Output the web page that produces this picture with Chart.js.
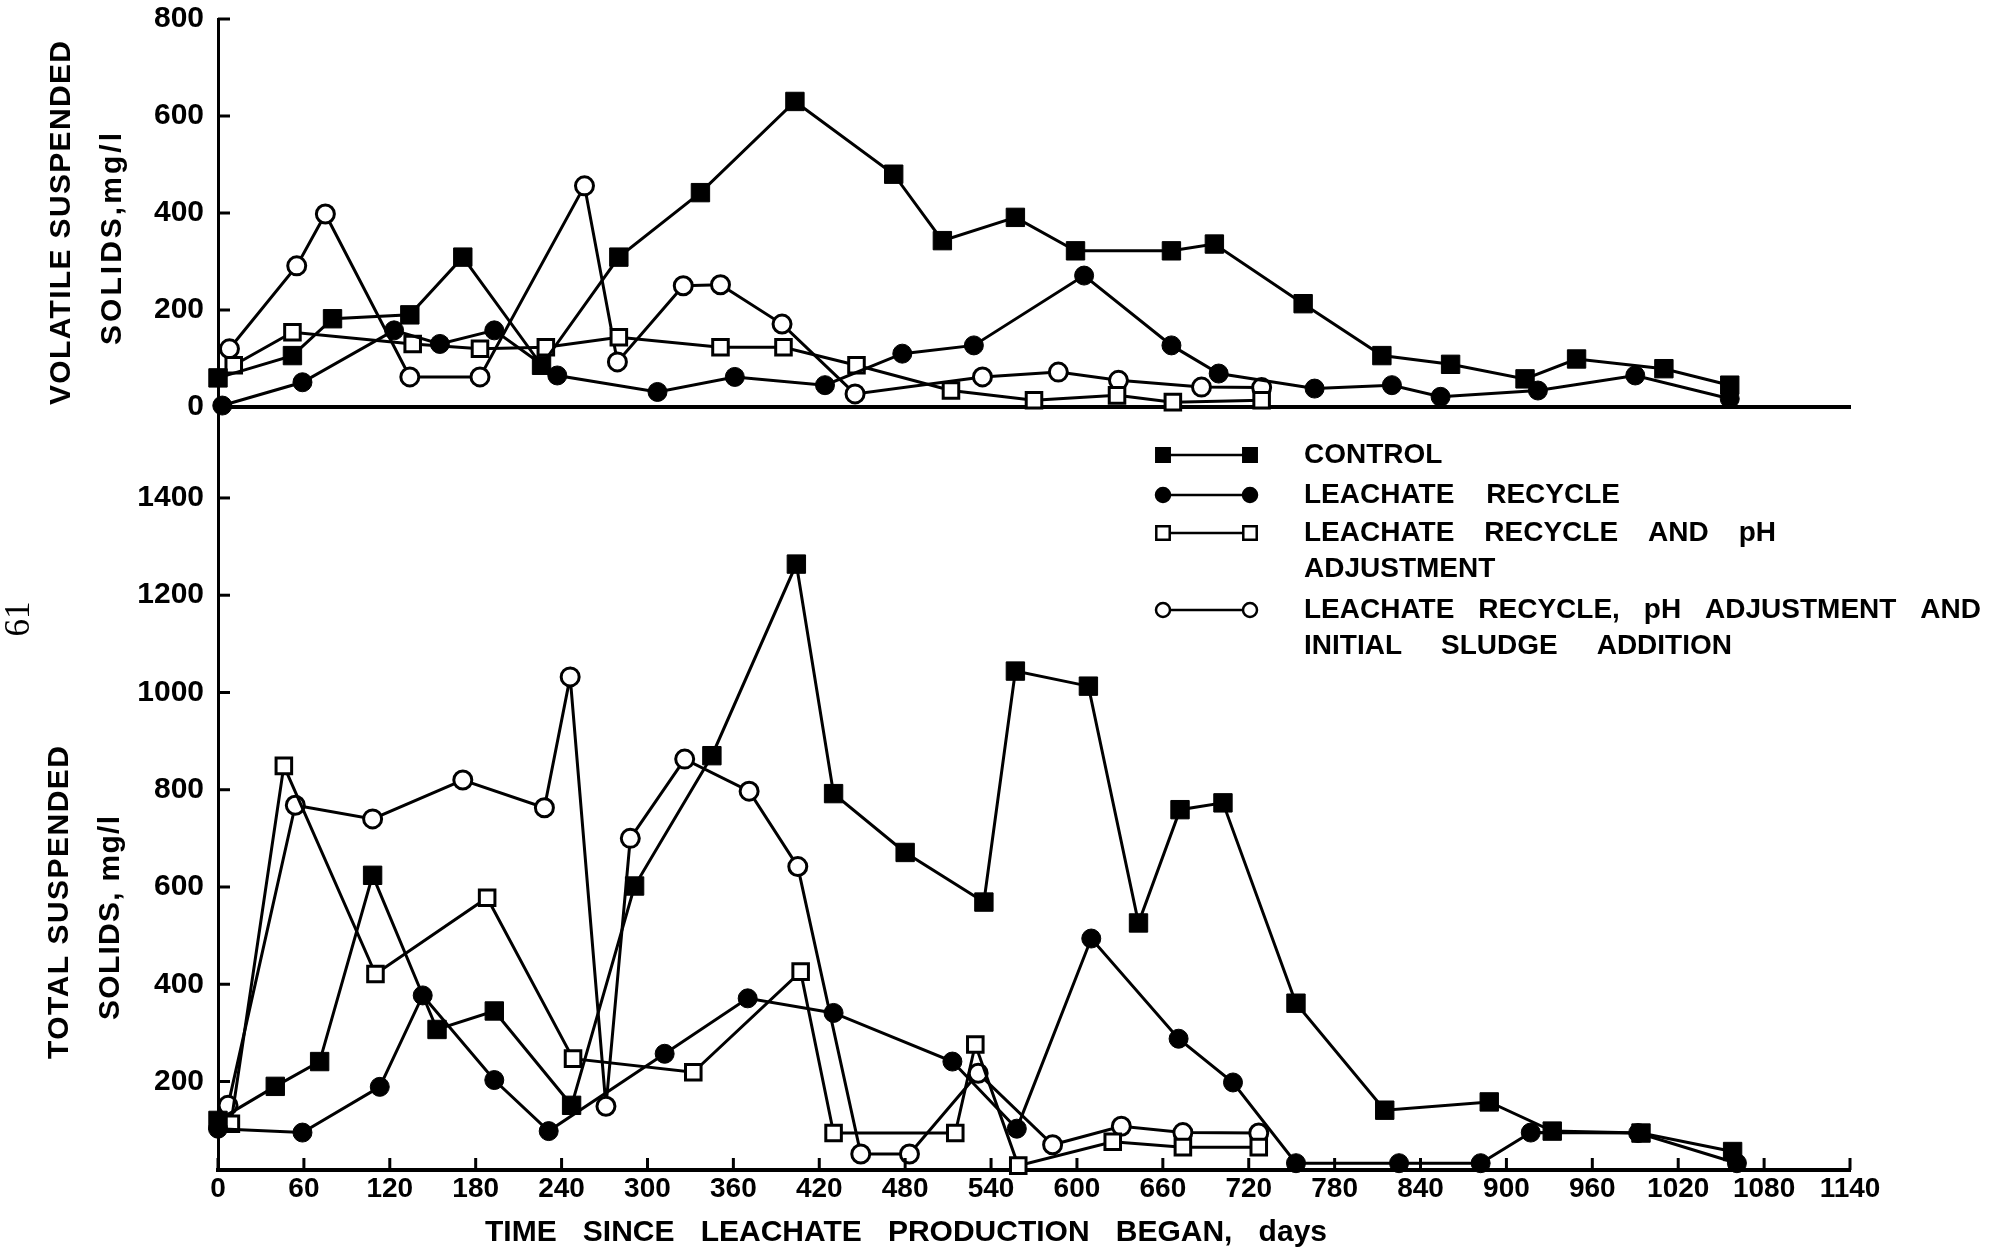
<!DOCTYPE html>
<html>
<head>
<meta charset="utf-8">
<script src="https://cdn.jsdelivr.net/npm/chart.js@4.4.1/dist/chart.umd.min.js"></script>
<style>
  html, body { margin: 0; padding: 0; background: #fff; }
  #wrap { position: relative; width: 2000px; height: 1255px; overflow: hidden; background: #fff; }
  canvas { position: absolute; left: 0; }
  #vss { top: 0; }
  #tss { top: 380px; }
</style>
</head>
<body>
<div id="wrap">
  <canvas id="vss" width="2000" height="430"></canvas>
  <canvas id="tss" width="2000" height="875"></canvas>
</div>
<script>
// ---- data (days since leachate production began, mg/l) ----
const seriesNames = ['CONTROL', 'LEACHATE RECYCLE', 'LEACHATE RECYCLE AND pH ADJUSTMENT',
  'LEACHATE RECYCLE, pH ADJUSTMENT AND INITIAL SLUDGE ADDITION'];

// volatile suspended solids (top panel)
const vssControlDays = [0, 52, 80, 134, 171, 226, 280, 337, 403, 472, 506, 557, 599, 666, 696, 758, 813, 861, 913, 949, 1010, 1056];
const vssControl     = [60, 106, 182, 190, 309, 86, 309, 442, 630, 480, 343, 391, 322, 322, 336, 213, 106, 88, 58, 99, 79, 45];
const vssRecycleDays = [3, 59, 123, 155, 193, 237, 307, 361, 424, 478, 528, 605, 666, 699, 766, 820, 854, 922, 990, 1056];
const vssRecycle     = [3, 51, 158, 130, 158, 65, 31, 62, 45, 110, 127, 271, 127, 69, 38, 45, 21, 34, 65, 17];
const vssPhDays      = [11, 52, 136, 183, 229, 280, 351, 395, 446, 512, 570, 628, 667, 729];
const vssPh          = [86, 154, 130, 120, 123, 144, 123, 123, 86, 34, 14, 24, 10, 14];
const vssSludgeDays  = [8, 55, 75, 134, 183, 256, 279, 325, 351, 394, 445, 534, 587, 629, 687, 729];
const vssSludge      = [120, 291, 398, 62, 62, 456, 93, 250, 252, 171, 27, 62, 72, 55, 41, 40];

// total suspended solids (bottom panel)
const tssControlDays = [0, 40, 71, 108, 153, 193, 247, 291, 345, 404, 430, 480, 535, 557, 608, 643, 672, 702, 753, 815, 888, 932, 994, 1058];
const tssControl     = [120, 190, 241, 624, 307, 345, 151, 602, 870, 1264, 792, 671, 569, 1044, 1013, 526, 759, 773, 361, 141, 158, 98, 94, 56];
const tssRecycleDays = [0, 59, 113, 143, 193, 231, 312, 370, 430, 513, 558, 610, 671, 709, 753, 825, 882, 917, 992, 1061];
const tssRecycle     = [103, 95, 189, 377, 203, 98, 257, 371, 341, 241, 103, 494, 288, 198, 32, 32, 32, 95, 94, 32];
const tssPhDays      = [9, 46, 110, 188, 248, 332, 407, 430, 515, 529, 559, 625, 674, 727];
const tssPh          = [113, 849, 421, 578, 247, 219, 426, 94, 94, 276, 27, 76, 65, 65];
const tssSludgeDays  = [7, 54, 108, 171, 228, 246, 271, 288, 326, 371, 405, 449, 483, 531, 583, 631, 674, 727];
const tssSludge      = [151, 768, 740, 820, 763, 1032, 149, 700, 863, 797, 642, 51, 51, 217, 70, 108, 95, 94];

const vssTicks = [0, 200, 400, 600, 800];
const tssTicks = [200, 400, 600, 800, 1000, 1200, 1400];

// legend text, as laid out in the figure
const legendLines = [['CONTROL'], ['LEACHATE RECYCLE'], ['LEACHATE RECYCLE AND pH', 'ADJUSTMENT'],
  ['LEACHATE RECYCLE, pH ADJUSTMENT AND', 'INITIAL SLUDGE ADDITION']];

// ---- styling / layout ----
const FONT = '"Liberation Sans", Arial, Helvetica, sans-serif';
const markers = [
  { pointStyle: 'rect',   fill: '#000', radius: 13,  border: 1 },
  { pointStyle: 'circle', fill: '#000', radius: 9.5, border: 1 },
  { pointStyle: 'rect',   fill: '#fff', radius: 11,  border: 3 },
  { pointStyle: 'circle', fill: '#fff', radius: 9,   border: 3 }
];
const legendWidths = [[137], [316], [472, 191], [677, 428]];
const legendRows = [455, 495, 533, 610];

function pts(days, vals) {
  return days.map((d, i) => ({ x: d, y: vals[i] }));
}

function makeSets(list) {
  return list.map((data, i) => ({
    label: seriesNames[i],
    data: data,
    showLine: true,
    tension: 0,
    clip: false,
    borderColor: '#000',
    borderWidth: 3,
    pointStyle: markers[i].pointStyle,
    pointRadius: markers[i].radius,
    pointHoverRadius: markers[i].radius,
    pointBackgroundColor: markers[i].fill,
    pointBorderColor: '#000',
    pointBorderWidth: markers[i].border
  }));
}

// draw text stretched to a given width (letter or word spacing)
function spreadText(ctx, text, x, y, width, mode) {
  if (width && 'letterSpacing' in ctx) {
    ctx.letterSpacing = '0px';
    ctx.wordSpacing = '0px';
    const natural = ctx.measureText(text).width;
    if (mode === 'words') {
      const gaps = text.split(' ').length - 1;
      if (gaps > 0) ctx.wordSpacing = ((width - natural) / gaps) + 'px';
    } else {
      const n = [...text].length;
      if (n > 1) ctx.letterSpacing = ((width - natural) / (n - 1)) + 'px';
    }
  }
  ctx.fillText(text, x, y);
}

function marker(ctx, style, radius, x, y) {
  ctx.fillStyle = style.fill;
  ctx.strokeStyle = '#000';
  ctx.lineWidth = 2.5;
  if (Chart.helpers && Chart.helpers.drawPoint) {
    Chart.helpers.drawPoint(ctx, { pointStyle: style.pointStyle, radius: radius, borderWidth: 2.5, rotation: 0 }, x, y);
  } else {
    ctx.beginPath();
    if (style.pointStyle === 'rect') {
      const s = radius * Math.SQRT1_2;
      ctx.rect(x - s, y - s, 2 * s, 2 * s);
    } else {
      ctx.arc(x, y, radius, 0, Math.PI * 2);
    }
    ctx.fill();
    ctx.stroke();
  }
}

// tick marks pointing into the plot, as in the figure
const inwardTicks = {
  id: 'inwardTicks',
  afterDraw(chart, args, opts) {
    const ctx = chart.ctx, area = chart.chartArea;
    ctx.save();
    ctx.strokeStyle = '#000';
    ctx.lineWidth = 3;
    const ys = chart.scales.y;
    ys.ticks.forEach(t => {
      const py = ys.getPixelForValue(t.value);
      ctx.beginPath();
      ctx.moveTo(area.left, py);
      ctx.lineTo(area.left + opts.yLen, py);
      ctx.stroke();
    });
    if (opts.xLen) {
      const xs = chart.scales.x;
      xs.ticks.forEach(t => {
        const px = xs.getPixelForValue(t.value);
        ctx.beginPath();
        ctx.moveTo(px, area.bottom);
        ctx.lineTo(px, area.bottom - opts.xLen);
        ctx.stroke();
      });
    }
    ctx.restore();
  }
};

// axis titles and other loose text
const paperText = {
  id: 'paperText',
  afterDraw(chart, args, opts) {
    const ctx = chart.ctx;
    (opts.items || []).forEach(it => {
      ctx.save();
      ctx.fillStyle = '#000';
      ctx.font = (it.weight || 'bold') + ' ' + it.size + 'px ' + (it.family || FONT);
      ctx.textAlign = it.align || 'left';
      ctx.textBaseline = 'middle';
      ctx.translate(it.x, it.y - opts.offsetY);
      if (it.angle) ctx.rotate(it.angle * Math.PI / 180);
      spreadText(ctx, it.text, 0, 0, it.width, it.mode);
      ctx.restore();
    });
  }
};

const legendBlock = {
  id: 'legendBlock',
  afterDraw(chart, args, o) {
    const ctx = chart.ctx;
    chart.data.datasets.forEach((ds, i) => {
      const y = legendRows[i] - o.offsetY;
      ctx.save();
      ctx.strokeStyle = '#000';
      ctx.lineWidth = 2.5;
      ctx.beginPath();
      ctx.moveTo(o.x1, y);
      ctx.lineTo(o.x2, y);
      ctx.stroke();
      const r = markers[i].pointStyle === 'rect' ? 9.5 : 7;
      marker(ctx, markers[i], r, o.x1, y);
      marker(ctx, markers[i], r, o.x2, y);
      ctx.fillStyle = '#000';
      ctx.font = 'bold 28px ' + FONT;
      ctx.textAlign = 'left';
      ctx.textBaseline = 'middle';
      legendLines[i].forEach((line, j) => {
        spreadText(ctx, line, o.textX, y + j * o.lineGap, legendWidths[i][j], 'words');
      });
      ctx.restore();
    });
  }
};

const tickFont = { family: FONT, size: 30, weight: 'bold' };
const plain = v => String(v);
// keep the axis label overhang from pushing the plot area around
const fitY = s => { s.width = 100; s.paddingTop = 0; s.paddingBottom = 0; };

new Chart(document.getElementById('vss'), {
  type: 'line',
  data: {
    datasets: makeSets([
      pts(vssControlDays, vssControl),
      pts(vssRecycleDays, vssRecycle),
      pts(vssPhDays, vssPh),
      pts(vssSludgeDays, vssSludge)
    ])
  },
  options: {
    responsive: false,
    animation: false,
    events: [],
    layout: { padding: { left: 118, right: 150, top: 19, bottom: 13 } },
    plugins: {
      legend: { display: false },
      tooltip: { enabled: false },
      inwardTicks: { yLen: 12, xLen: 0 },
      paperText: {
        offsetY: 0,
        items: [
          { text: 'VOLATILE SUSPENDED', x: 62, y: 405, width: 364, angle: -90, size: 30 },
          { text: 'SOLIDS,mg/l', x: 113, y: 345, width: 212, angle: -90, size: 30 }
        ]
      }
    },
    scales: {
      x: {
        type: 'linear', min: 0, max: 1140, bounds: 'data',
        grid: { display: false, drawTicks: false },
        border: { display: true, color: '#000', width: 4 },
        ticks: { display: false, stepSize: 60 },
        afterFit: s => { s.height = 10; s.paddingLeft = 0; s.paddingRight = 0; }
      },
      y: {
        type: 'linear', min: 0, max: 800, bounds: 'data',
        grid: { display: false, drawTicks: false },
        border: { display: true, color: '#000', width: 3 },
        afterBuildTicks: s => { s.ticks = vssTicks.map(v => ({ value: v })); },
        ticks: { color: '#000', padding: 14, font: tickFont, callback: plain },
        afterFit: fitY
      }
    }
  },
  plugins: [inwardTicks, paperText]
});

new Chart(document.getElementById('tss'), {
  type: 'line',
  data: {
    datasets: makeSets([
      pts(tssControlDays, tssControl),
      pts(tssRecycleDays, tssRecycle),
      pts(tssPhDays, tssPh),
      pts(tssSludgeDays, tssSludge)
    ])
  },
  options: {
    responsive: false,
    animation: false,
    events: [],
    layout: { padding: { left: 118, right: 150, top: 28, bottom: 25 } },
    plugins: {
      legend: { display: false },
      tooltip: { enabled: false },
      inwardTicks: { yLen: 12, xLen: 12 },
      legendBlock: { offsetY: 380, x1: 1163, x2: 1250, textX: 1304, lineGap: 36 },
      paperText: {
        offsetY: 380,
        items: [
          { text: 'TOTAL SUSPENDED', x: 60, y: 1059, width: 313, angle: -90, size: 30 },
          { text: 'SOLIDS, mg/l', x: 111, y: 1020, width: 204, angle: -90, size: 30 },
          { text: 'TIME SINCE LEACHATE PRODUCTION BEGAN, days', x: 485, y: 1233, width: 842, size: 30, mode: 'words' },
          { text: '61', x: 20, y: 619, angle: -90, size: 35, weight: 'normal', family: '"Liberation Serif", "DejaVu Serif", serif', align: 'center' }
        ]
      }
    },
    scales: {
      x: {
        type: 'linear', min: 0, max: 1140, bounds: 'data',
        grid: { display: false, drawTicks: false },
        border: { display: true, color: '#000', width: 4 },
        ticks: { stepSize: 60, autoSkip: false, maxRotation: 0, padding: 2, color: '#000',
                 font: { family: FONT, size: 28, weight: 'bold' }, callback: plain },
        afterFit: s => { s.height = 60; s.paddingLeft = 0; s.paddingRight = 0; }
      },
      y: {
        type: 'linear', min: 18, max: 1585, bounds: 'data',
        grid: { display: false, drawTicks: false },
        border: { display: true, color: '#000', width: 3 },
        afterBuildTicks: s => { s.ticks = tssTicks.map(v => ({ value: v })); },
        ticks: { color: '#000', padding: 14, font: tickFont, callback: plain },
        afterFit: fitY
      }
    }
  },
  plugins: [inwardTicks, paperText, legendBlock]
});
</script>
</body>
</html>
